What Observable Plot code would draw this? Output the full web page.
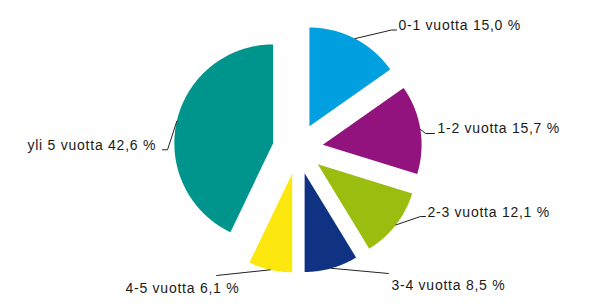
<!DOCTYPE html>
<html>
<head>
<meta charset="utf-8">
<script src="https://cdn.jsdelivr.net/npm/d3@7"></script>
<script src="https://cdn.jsdelivr.net/npm/@observablehq/plot@0.6"></script>
<style>
  html, body { margin: 0; padding: 0; background: #fff; }
</style>
</head>
<body>
<div id="chart"></div>
<script>
// ---- data ----
const categories = ["0-1 vuotta", "1-2 vuotta", "2-3 vuotta", "3-4 vuotta", "4-5 vuotta", "yli 5 vuotta"];
// percentages printed in the labels
const shares = [15.0, 15.7, 12.1, 8.5, 6.1, 42.6];
// slice sizes as drawn in the reference
const sliceSizes = [15.2, 14.5, 11.5, 8.7, 7.1, 42.8];
const colors = ["#009fdf", "#93137e", "#9bbd10", "#0f3282", "#fce80e", "#00958c"];

// ---- layout (pixel frame) ----
const W = 590, H = 308;
const center = [297.3, 148.3], radius = 98.8, explode = 25.3;
// label text start (x, baseline) and leader elbow / end points
const labelLayout = [
  {tx: 398, ty: 29.5,  bx: 391, by: 29.5,  ex: 396, ey: 29.5},
  {tx: 437, ty: 132.7, bx: 425, by: 133,   ex: 434, ey: 133},
  {tx: 427, ty: 216,   bx: 420, by: 216,   ex: 425, ey: 216},
  {tx: 391, ty: 289.3, bx: 388, by: 273,   ex: 388, ey: 273},
  {tx: 125, ty: 292.5, bx: 216, by: 275,   ex: 216, ey: 275},
  {tx: 27,  ty: 149.3, bx: 167, by: 149.3, ex: 162, ey: 149.3}
];
const fontSize = 14;

const arcs = d3.pie().sort(null).value(d => d)(sliceSizes);

const slicePts = [];
const leaderPts = [];
const labelRows = [];
arcs.forEach((a, i) => {
  const key = categories[i];
  const mid = (a.startAngle + a.endAngle) / 2;
  const ax = center[0] + explode * Math.sin(mid);
  const ay = center[1] - explode * Math.cos(mid);
  slicePts.push({key, x: ax, y: ay});
  const n = Math.max(2, Math.ceil((a.endAngle - a.startAngle) / 0.01));
  for (let k = 0; k <= n; k++) {
    const t = a.startAngle + (a.endAngle - a.startAngle) * k / n;
    slicePts.push({key, x: ax + radius * Math.sin(t), y: ay - radius * Math.cos(t)});
  }
  const L = labelLayout[i];
  const sx = ax + radius * Math.sin(mid), sy = ay - radius * Math.cos(mid);
  leaderPts.push({key, x: sx, y: sy}, {key, x: L.bx, y: L.by}, {key, x: L.ex, y: L.ey});
  labelRows.push({
    key,
    x: L.tx,
    y: L.ty - 0.32 * fontSize,
    text: `${key} ${shares[i].toFixed(1).replace(".", ",")} %`
  });
});

const chart = Plot.plot({
  width: W,
  height: H,
  margin: 0,
  style: "font-family: 'Liberation Sans', Arial, sans-serif; letter-spacing: 0.75px; background: #fff;",
  x: {domain: [0, W], range: [0, W], axis: null},
  y: {domain: [0, H], range: [0, H], axis: null},
  color: {domain: categories, range: colors},
  marks: [
    Plot.line(slicePts, {x: "x", y: "y", z: "key", fill: "key", stroke: "none", curve: "linear"}),
    Plot.line(leaderPts, {x: "x", y: "y", z: "key", stroke: "#222", strokeWidth: 1, curve: "linear"}),
    Plot.text(labelRows, {x: "x", y: "y", text: "text", textAnchor: "start", fontSize, fill: "#1a1a1a"})
  ]
});
document.getElementById("chart").appendChild(chart);
</script>
</body>
</html>
